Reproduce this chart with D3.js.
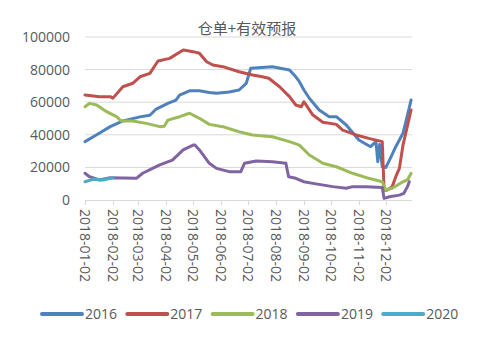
<!DOCTYPE html>
<html><head><meta charset="utf-8">
<script src="https://cdn.jsdelivr.net/npm/d3@7"></script>
<style>body{margin:0;background:#fff}svg{display:block}</style>
</head><body><svg id="c" width="491" height="338"></svg>
<script>
const title = "仓单+有效预报";
const seriesNames = ["2016","2017","2018","2019","2020"];
const colors = ["#4F81BD","#C0504D","#9BBB59","#8064A2","#4BACC6"];
const yTicks = [0,20000,40000,60000,80000,100000];
const xTickLabels = ["2018-01-02","2018-02-02","2018-03-02","2018-04-02","2018-05-02","2018-06-02","2018-07-02","2018-08-02","2018-09-02","2018-10-02","2018-11-02","2018-12-02"];

// values in thousands, dates on the 2018 axis
const s2016 = [["01-02",35.8],["01-15",40],["01-30",45],["02-13",48.5],["03-04",51],["03-15",52],["03-22",55.8],["04-04",59.3],["04-13",61.3],["04-17",64.4],["04-28",67],["05-09",67],["05-20",66],["05-28",65.5],["06-11",66.3],["06-22",67.5],["06-30",71.6],["07-05",80.8],["07-29",81.8],["08-17",79.8],["08-24",75.6],["08-28",72.6],["09-02",67.5],["09-08",62.4],["09-19",55.2],["09-30",51.1],["10-08",51.1],["10-19",46],["11-02",36.8],["11-15",32.7],["11-21",35.8],["11-23",23.5],["11-25",34],["11-28",20.4],["12-02",20],["12-06",24.5],["12-13",32.7],["12-21",40.9],["12-30",61.3]];
const s2017 = [["01-02",64.4],["01-18",63.4],["01-30",63.4],["02-02",62.5],["02-13",69.5],["02-24",71.6],["03-04",75.6],["03-15",77.7],["03-24",85.3],["04-06",86.9],["04-21",92],["05-02",91],["05-09",90],["05-17",84.8],["05-24",82.8],["06-04",81.8],["06-22",78.7],["07-07",76.7],["07-18",75.6],["07-25",74.7],["08-06",69.5],["08-17",63.4],["08-24",58.3],["08-30",57.2],["09-02",60.3],["09-12",52.1],["09-23",47.7],["10-08",46.4],["10-15",42.9],["10-30",39.9],["11-13",37.8],["11-28",35.8],["11-30",6],["12-03",6],["12-09",8.2],["12-13",14.3],["12-17",19.4],["12-21",33.7],["12-30",55.2]];
const s2018 = [["01-02",57.2],["01-07",59.3],["01-15",58.3],["01-26",54.2],["02-06",51.1],["02-11",48.5],["02-24",48.5],["03-11",47],["03-26",45],["03-31",45.3],["04-04",49],["04-17",51.1],["04-28",53.2],["05-09",50.1],["05-20",46.4],["06-04",45],["06-22",41.9],["07-07",39.9],["07-29",38.8],["08-17",35.8],["08-28",33.7],["09-08",27.6],["09-23",22.5],["10-08",20.4],["10-26",16.4],["11-13",13.3],["11-28",11.2],["12-02",6.1],["12-09",7.2],["12-21",11.2],["12-26",12.3],["12-30",16.4]];
const s2019 = [["01-02",16.4],["01-07",14.3],["01-18",12.3],["01-30",13.7],["02-28",13.3],["03-07",16.4],["03-18",19.4],["03-26",21.5],["04-09",24.5],["04-21",30.7],["05-02",33.7],["05-04",33.7],["05-09",30.7],["05-20",22.5],["05-28",19.4],["06-11",17.4],["06-24",17.4],["06-28",22.5],["07-11",23.9],["07-29",23.5],["08-13",22.5],["08-16",14.3],["08-24",13.3],["09-02",11.2],["09-12",10.2],["10-04",8.2],["10-19",7.2],["10-26",8.2],["11-10",8.2],["11-28",7.6],["11-30",1],["12-06",2],["12-17",3],["12-22",4.1],["12-26",8.2],["12-28",11.2]];
const s2020 = [["01-02",11.2],["01-11",12.7],["01-22",12.3],["02-02",13.7]];
const allSeries = [s2016,s2017,s2018,s2019,s2020];

const parse = d3.timeParse("%Y-%m-%d");
const svg = d3.select("#c");
const font = "'Open Sans', 'Liberation Sans', sans-serif";
const x = d3.scaleTime().domain([parse("2018-01-02"), parse("2018-12-31")]).range([85, 412]);
const y = d3.scaleLinear().domain([0, 100000]).range([200, 37]);

// gridlines
svg.append("g").selectAll("line").data(yTicks.slice(1)).join("line")
  .attr("x1", 85).attr("x2", 412).attr("y1", d => y(d)).attr("y2", d => y(d))
  .attr("stroke", "#d9d9d9").attr("stroke-width", 1);

// y labels
svg.append("g").selectAll("text").data(yTicks).join("text")
  .attr("x", 70).attr("y", d => y(d)).attr("dy", "0.35em")
  .attr("text-anchor", "end").attr("font-family", font).attr("font-size", 14)
  .attr("fill", "#595959").text(d => d);

// x axis line and ticks
svg.append("line").attr("x1", 85).attr("x2", 412).attr("y1", 200.5).attr("y2", 200.5)
  .attr("stroke", "#d9d9d9");
const xg = svg.append("g");
xg.selectAll("line").data(xTickLabels).join("line")
  .attr("x1", d => Math.round(x(parse(d))) + 0.5).attr("x2", d => Math.round(x(parse(d))) + 0.5)
  .attr("y1", 200).attr("y2", 205).attr("stroke", "#d9d9d9");
xg.selectAll("text").data(xTickLabels).join("text")
  .attr("transform", d => `translate(${x(parse(d)) - 5},209) rotate(90)`)
  .attr("text-anchor", "start").attr("font-family", font).attr("font-size", 14)
  .attr("fill", "#595959").text(d => d);

// title
svg.append("text").attr("x", 247).attr("y", 34).attr("text-anchor", "middle")
  .attr("font-family", "'Noto Sans CJK SC', sans-serif").attr("font-size", 15)
  .attr("fill", "#595959").text(title);

// lines
const line = d3.line().x(d => x(parse("2018-" + d[0]))).y(d => y(d[1] * 1000));
svg.append("g").selectAll("path").data(allSeries).join("path")
  .attr("d", d => line(d)).attr("fill", "none")
  .attr("stroke", (d, i) => colors[i]).attr("stroke-width", 3)
  .attr("stroke-linejoin", "round").attr("stroke-linecap", "round");

// legend
const lg = svg.append("g").selectAll("g").data(seriesNames).join("g")
  .attr("transform", (d, i) => `translate(${42 + i * 85.3},314)`);
lg.append("line").attr("x1", 0).attr("x2", 40).attr("stroke", (d, i) => colors[i])
  .attr("stroke-width", 4).attr("stroke-linecap", "round");
lg.append("text").attr("x", 43).attr("dy", "0.35em").attr("font-family", font)
  .attr("font-size", 14).attr("fill", "#595959").text(d => d);
</script></body></html>
